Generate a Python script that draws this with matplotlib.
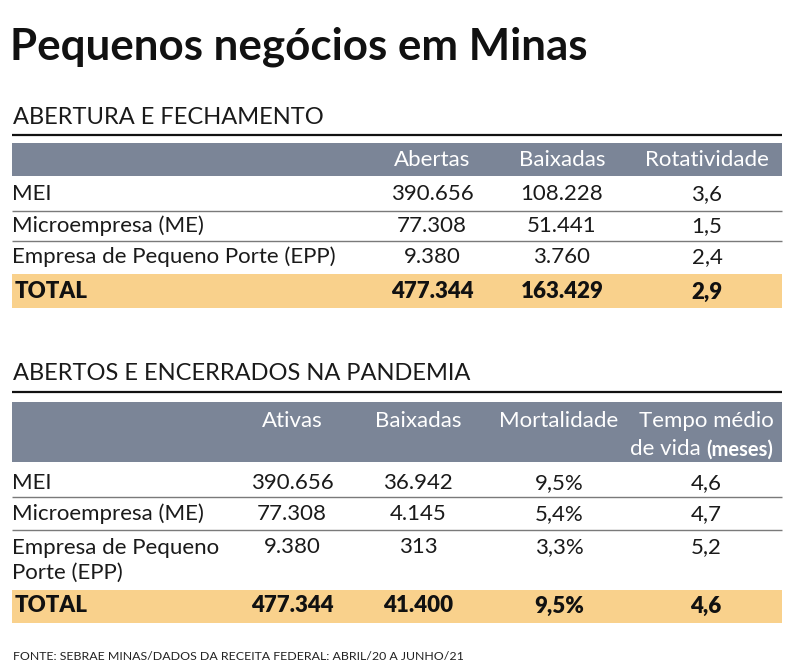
import matplotlib
matplotlib.use('AGG')
import matplotlib.pyplot as plt
from matplotlib.patches import Rectangle

# Dados
TITULO = 'Pequenos negócios em Minas'
SECAO1 = 'ABERTURA E FECHAMENTO'
SECAO2 = 'ABERTOS E ENCERRADOS NA PANDEMIA'
FONTE = 'FONTE: SEBRAE MINAS/DADOS DA RECEITA FEDERAL: ABRIL/20 A JUNHO/21'

cols1 = ['Abertas', 'Baixadas', 'Rotatividade']
rows1 = ['MEI', 'Microempresa (ME)', 'Empresa de Pequeno Porte (EPP)']
abertas1 = ['390.656', '77.308', '9.380']
baixadas1 = ['108.228', '51.441', '3.760']
rotatividade1 = ['3,6', '1,5', '2,4']
total1 = ['477.344', '163.429', '2,9']

cols2 = ['Ativas', 'Baixadas', 'Mortalidade', 'Tempo médio']
rows2 = ['MEI', 'Microempresa (ME)', 'Empresa de Pequeno\nPorte (EPP)']
ativas2 = ['390.656', '77.308', '9.380']
baixadas2 = ['36.942', '4.145', '313']
mortalidade2 = ['9,5%', '5,4%', '3,3%']
tempo2 = ['4,6', '4,7', '5,2']
total2 = ['477.344', '41.400', '9,5%', '4,6']

HEAD = '#7b8597'
TOT = '#f9d18c'
SEP = '#7a7a7a'
FF = ['Lato', 'DejaVu Sans']
X0, X1 = 12, 782

fig = plt.figure(figsize=(7.9, 6.72), dpi=100)
ax = fig.add_axes([0, 0, 1, 1])
ax.set_xlim(0, 790)
ax.set_ylim(672, 0)
ax.axis('off')


def txt(x, y, s, size=16, weight='normal', color='#1a1a1a', ha='center', va='center'):
	ax.text(x, y, s, fontsize=size, fontweight=weight, color=color, ha=ha, va=va,
		family=FF, linespacing=1.3)


def band(y0, y1, color):
	ax.add_patch(Rectangle((X0, y0), X1 - X0, y1 - y0, color=color, lw=0))


def hline(y, color, lw):
	ax.plot([X0, X1], [y, y], color=color, lw=lw, solid_capstyle='butt')


txt(10, 47, TITULO, size=31.6, weight='bold', color='#111111', ha='left')

# ---- tabela 1
txt(13, 118, SECAO1, size=17, ha='left')
hline(134.5, '#111111', 1.6)
band(143, 176, HEAD)
xs1 = [432, 562, 707]
for x, c in zip(xs1, cols1):
	txt(x, 160, c, color='white')
ys1 = [194, 226, 257]
for i, y in enumerate(ys1):
	txt(12, y, rows1[i], ha='left')
	for x, v in zip(xs1, [abertas1[i], baixadas1[i], rotatividade1[i]]):
		txt(x, y, v)
for y in [211, 241]:
	hline(y, SEP, 1.0)
band(274, 308, TOT)
txt(15, 292, 'TOTAL', weight='heavy', color='#111111', ha='left')
for x, v in zip(xs1, total1):
	txt(x, 292, v, weight='heavy', color='#111111')

# ---- tabela 2
txt(13, 374, SECAO2, size=17, ha='left')
hline(391.5, '#111111', 1.6)
band(402, 462, HEAD)
xs2 = [292, 418, 559, 706]
for x, c in zip(xs2, cols2):
	txt(x, 421, c, color='white')
ax.text(706, 449, 'de vida ', fontsize=16, color='white',
	ha='right', va='center', family=FF)
ax.text(706, 450, '(meses)', fontsize=14.5, fontweight='bold', color='white',
	ha='left', va='center', family=FF)
ys2 = [483, 514, 547]
for i, y in enumerate(ys2):
	if '\n' in rows2[i]:
		txt(12, y + 13, rows2[i], ha='left')
	else:
		txt(12, y, rows2[i], ha='left')
	for x, v in zip(xs2, [ativas2[i], baixadas2[i], mortalidade2[i], tempo2[i]]):
		txt(x, y, v)
for y in [497, 530]:
	hline(y, SEP, 1.0)
band(590, 623, TOT)
txt(15, 606, 'TOTAL', weight='heavy', color='#111111', ha='left')
for x, v in zip(xs2, total2):
	txt(x, 606, v, weight='heavy', color='#111111')

txt(13, 657, FONTE, size=8.9, color='#222222', ha='left')

plt.savefig('out.png', dpi=100)
